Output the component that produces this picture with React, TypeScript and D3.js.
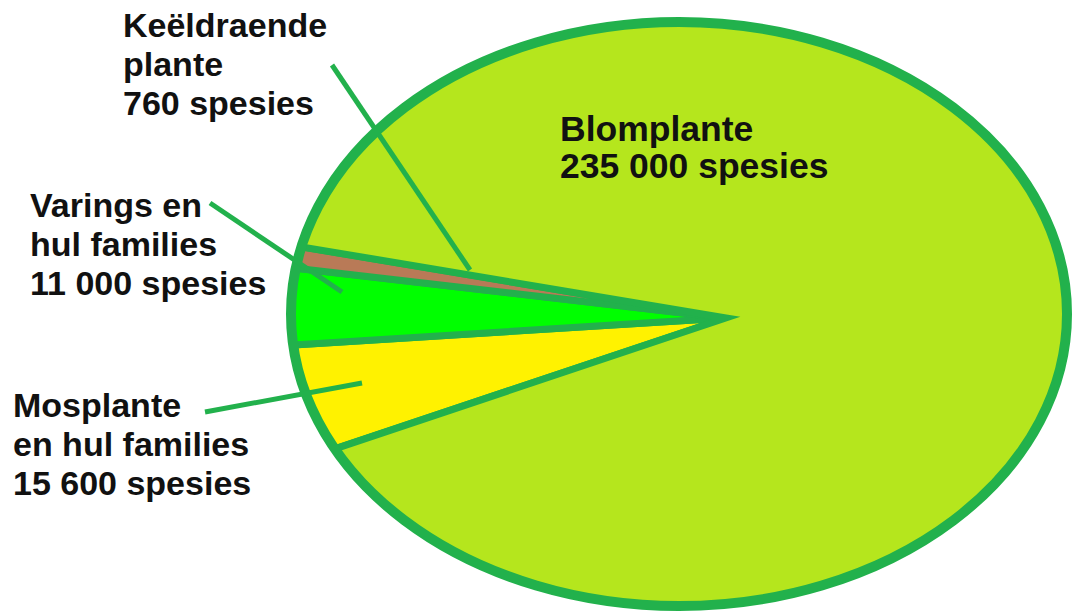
import { useEffect, useRef } from 'react'
import * as d3 from 'd3'

// Plant groups (Afrikaans labels) and species counts
const groups = ['Mosplante', 'Varings', 'Keëldraende', 'Blomplante']
const species = [15600, 11000, 760, 235000]
const fills = ['#fff200', '#00ff00', '#b97a57', '#b5e61d']

const labelLines = [
  ['Mosplante', 'en hul families', '15 600 spesies'],
  ['Varings en', 'hul families', '11 000 spesies'],
  ['Keëldraende', 'plante', '760 spesies'],
  ['Blomplante', '235 000 spesies'],
]

const W = 1077
const H = 615
const OUTLINE = '#22b14c'

function App() {
  const ref = useRef<SVGSVGElement | null>(null)

  useEffect(() => {
    if (!ref.current) return
    const svg = d3.select(ref.current)
    svg.selectAll('*').remove()

    // ellipse geometry and the (off-centre) apex of the wedges
    const cx = 679, cy = 314, rx = 388, ry = 292
    const apex = { x: 726, y: 318 }
    const start = (242.5 * Math.PI) / 180
    const minAngle = 0.075 // keep the tiny slice visible

    const pie = d3.pie<number>().sort(null).startAngle(start).endAngle(start + 2 * Math.PI)
    const arcs = pie(species)
    // widen the smallest slice, taking the room from the next one
    const k = 2
    if (arcs[k].endAngle - arcs[k].startAngle < minAngle) {
      arcs[k].endAngle = arcs[k].startAngle + minAngle
      arcs[k + 1].startAngle = arcs[k].endAngle
    }

    const pt = (a: number) => [cx + rx * Math.sin(a), cy - ry * Math.cos(a)]
    const wedge = (a0: number, a1: number) => {
      const [x0, y0] = pt(a0)
      const [x1, y1] = pt(a1)
      const large = a1 - a0 > Math.PI ? 1 : 0
      return `M${apex.x},${apex.y}L${x0},${y0}A${rx},${ry} 0 ${large} 1 ${x1},${y1}Z`
    }

    svg.append('rect').attr('width', W).attr('height', H).attr('fill', '#fff')

    svg.append('g')
      .selectAll('path')
      .data(arcs)
      .enter()
      .append('path')
      .attr('d', d => wedge(d.startAngle, d.endAngle))
      .attr('fill', (_, i) => fills[i])
      .attr('stroke', OUTLINE)
      .attr('stroke-width', 7)
      .attr('stroke-linejoin', 'miter')
      .attr('stroke-miterlimit', 20)

    svg.append('ellipse')
      .attr('cx', cx).attr('cy', cy).attr('rx', rx).attr('ry', ry)
      .attr('fill', 'none')
      .attr('stroke', OUTLINE)
      .attr('stroke-width', 10)

    // leader lines
    const leaders = [
      [[205, 412], [362, 383]],
      [[210, 203], [342, 292]],
      [[332, 65], [470, 270]],
    ]
    svg.append('g')
      .selectAll('line')
      .data(leaders)
      .enter()
      .append('line')
      .attr('x1', d => d[0][0]).attr('y1', d => d[0][1])
      .attr('x2', d => d[1][0]).attr('y2', d => d[1][1])
      .attr('stroke', OUTLINE)
      .attr('stroke-width', 5)

    // labels
    const labelPos = [
      { x: 13, y: 417, size: 34 },
      { x: 30, y: 217, size: 34 },
      { x: 123, y: 37, size: 34 },
      { x: 560, y: 141, size: 35.5 },
    ]
    const lineGap = 39
    labelLines.forEach((lines, i) => {
      const p = labelPos[i]
      const t = svg.append('text')
        .attr('font-family', '"Liberation Sans", Arial, sans-serif')
        .attr('font-weight', 'bold')
        .attr('font-size', p.size)
        .attr('fill', '#111')
        .attr('data-group', groups[i])
      lines.forEach((s, j) => {
        t.append('tspan')
          .attr('x', p.x)
          .attr('y', p.y + j * (i === 3 ? 37 : lineGap))
          .text(s)
      })
    })
  }, [])

  return (
    <svg
      ref={ref}
      width={W}
      height={H}
      style={{ position: 'absolute', left: 0, top: 0, display: 'block' }}
    />
  )
}

export default App
